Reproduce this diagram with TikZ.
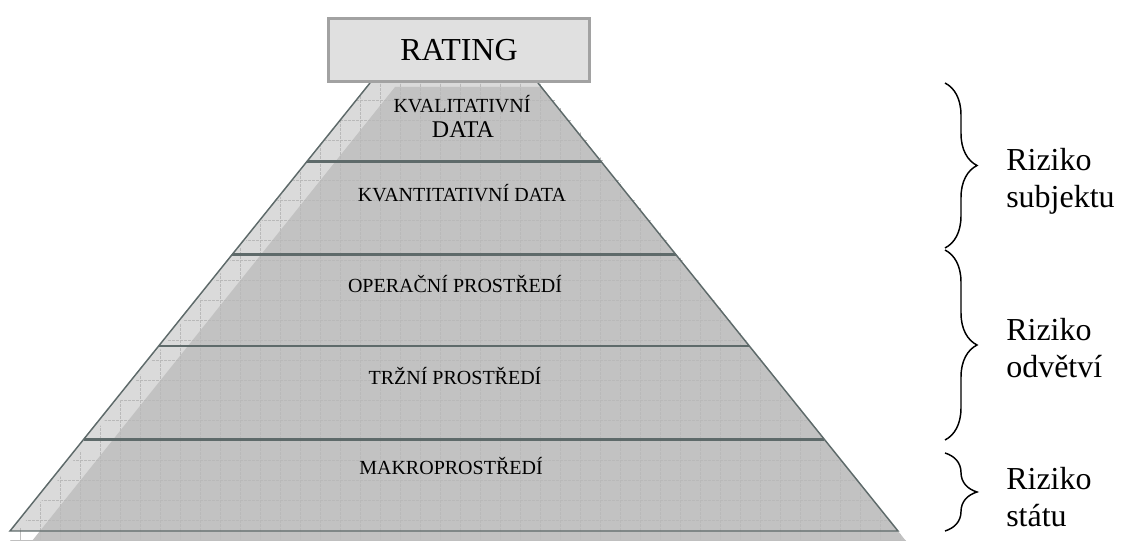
\documentclass[tikz,border=0pt]{standalone}
\usepackage{fontspec}
\setmainfont{Liberation Serif}
\usetikzlibrary{positioning,calc,decorations.pathreplacing}
\definecolor{edgegray}{HTML}{5E6A6A}
\definecolor{facegray}{HTML}{C2C2C2}
\definecolor{sidegray}{HTML}{DADADA}
\definecolor{boxgray}{HTML}{E0E0E0}
\definecolor{boxedge}{HTML}{A2A2A2}

\begin{document}
\begin{tikzpicture}[
    x=0.75pt, y=-0.75pt,
    sep/.style={draw=edgegray, line width=2.2pt},
    layertext/.style={font=\fontsize{15}{17}\selectfont, align=center},
    risk/.style={font=\fontsize{24}{28}\selectfont, align=left, anchor=west, inner sep=0pt},
    rbrace/.style={draw, line width=1.1pt, decorate, decoration={brace, amplitude=24pt}}
]

% ===== RAMEC =====
\path[use as bounding box] (0,0) rectangle (1122,541);

% ===== ROHY PYRAMIDY =====
\coordinate (tl) at (370,83);
\coordinate (tr) at (538,83);
\coordinate (br) at (898,531);
\coordinate (bl) at (10,531);

% ===== PYRAMIDA: bok + stin =====
\fill[sidegray] (tl) -- (tr) -- (br) -- (bl) -- cycle;
\fill[facegray] (395,87) -- (541,87) -- (906,541) -- (32,541) -- cycle;
\begin{scope}
  \clip (370,83) -- (541,83) -- (906,541) -- (10,541) -- cycle;
  \draw[gray!55, line width=0.3pt, dash pattern=on 2pt off 1pt, step=15pt] (0,83) grid (1122,531);
  \draw[gray!50, line width=0.6pt, step=15pt] (0,531) grid (1122,541);
\end{scope}
\draw[edgegray, line width=1.1pt] (tl) -- (bl) -- (br) -- (tr);

% ===== DELICI CARY =====
\draw[sep] ($(tl)!0.176!(bl)$) -- ($(tr)!0.176!(br)$);
\draw[sep] ($(tl)!0.382!(bl)$) -- ($(tr)!0.382!(br)$);
\draw[sep] ($(tl)!0.587!(bl)$) -- ($(tr)!0.587!(br)$);
\draw[sep] ($(tl)!0.795!(bl)$) -- ($(tr)!0.795!(br)$);

% ===== RATING =====
\node[draw=boxedge, line width=2.2pt, fill=boxgray, minimum width=196pt, minimum height=47pt,
      font=\fontsize{24}{28}\selectfont] (rating) at (459,50) {RATING};

% ===== VRSTVY =====
\node[layertext, inner sep=0pt] (kval) at (462,104) {KVALITATIVNÍ};
\node[inner sep=0pt, font=\fontsize{18}{20}\selectfont] (kvaldata) at (463,130) {DATA};
\node[layertext] (kvant) at (462,193) {KVANTITATIVNÍ DATA};
\node[layertext] (oper) at (455,284) {OPERAČNÍ PROSTŘEDÍ};
\node[layertext] (trzni) at (455,376) {TRŽNÍ PROSTŘEDÍ};
\node[layertext] (makro) at (451,466) {MAKROPROSTŘEDÍ};

% ===== ZAVORKY =====
\draw[rbrace] (945,83) -- (945,248);
\draw[rbrace] (945,250) -- (945,440);
\draw[rbrace] (945,453) -- (945,531);

\node[risk] (subj) at (1006,181) {Riziko\\subjektu};
\node[risk] (odv) at (1006,348) {Riziko\\odvětví};
\node[risk] (stat) at (1006,497) {Riziko\\státu};

\end{tikzpicture}
\end{document}
